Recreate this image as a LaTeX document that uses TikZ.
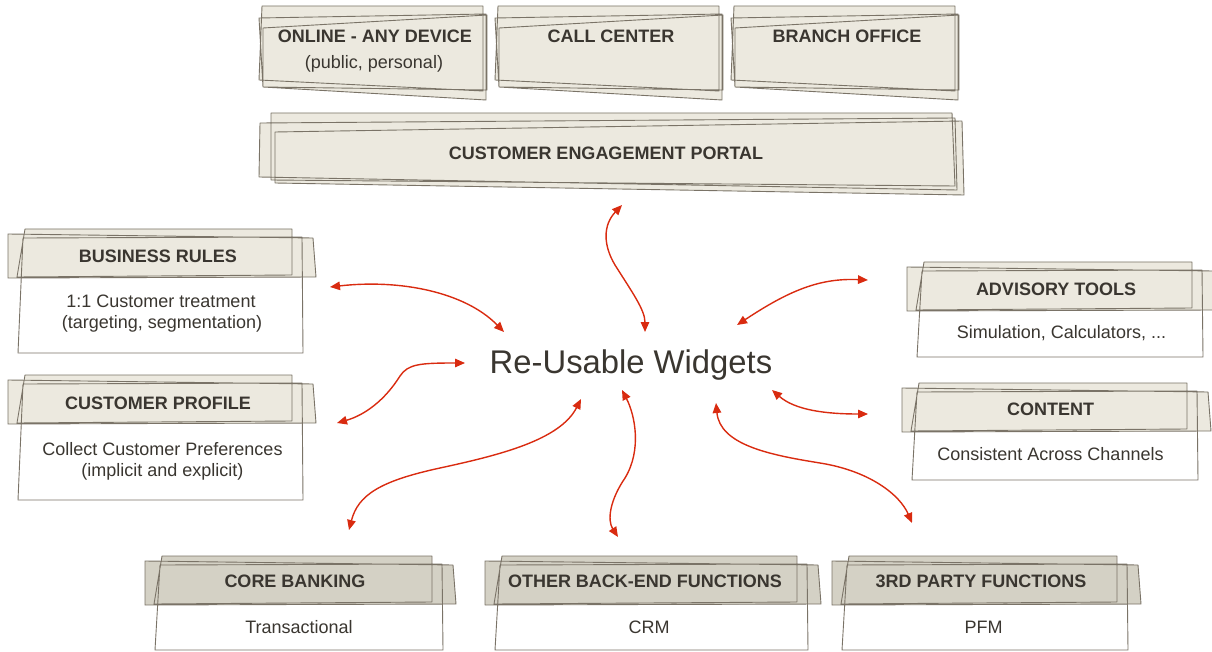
\documentclass[tikz,border=0pt]{standalone}
\usepackage{fontspec}
\setmainfont{Liberation Sans}
\usetikzlibrary{arrows.meta}
\definecolor{boxfill}{HTML}{ECE9DF}
\definecolor{darkfill}{HTML}{D4D1C5}
\definecolor{edgecol}{HTML}{7A7367}
\definecolor{txt}{HTML}{3A3630}
\definecolor{arrowred}{HTML}{D92B10}
% sketchy box of three overlapping quads: L T R B fill
\newcommand\SketchTop[5]{%
  \fill[#5] ({#1+3},#2) -- ({#3-4},#2) -- ({#3-4},{#4-9}) -- (#1,{#4-20}) -- cycle
    (#1,{#2+12}) -- ({#3-1},{#2+8}) -- ({#3-1},#4) -- ({#1+4},{#4-13}) -- cycle
    ({#1+4},{#2+22}) -- (#3,{#2+9}) -- (#3,{#4-10}) -- ({#1+4},{#4-13}) -- cycle;
  \draw[edge] ({#1+3},#2) -- ({#3-4},#2) -- ({#3-4},{#4-9}) -- (#1,{#4-20}) -- cycle
    (#1,{#2+12}) -- ({#3-1},{#2+8}) -- ({#3-1},#4) -- ({#1+4},{#4-13}) -- cycle
    ({#1+4},{#2+22}) -- (#3,{#2+9}) -- (#3,{#4-10}) -- ({#1+4},{#4-13}) -- cycle;}
% header band plus white body: L T R B headerfill
\newcommand\SketchSide[5]{%
  \fill[white] ({#1+5},{#2+9}) -- ({#3-1},{#2+8}) -- (#3,#4) -- (#1,#4) -- cycle;
  \fill[#5] ({#1-10},{#2+5}) -- ({#3+10},{#2+9}) -- ({#3+13},{#2+48}) -- ({#1-10},{#2+49}) -- cycle
    ({#1+7},#2) -- ({#3-11},#2) -- ({#3-11},{#2+46}) -- ({#1-1},{#2+48}) -- cycle;
  \draw[edge] ({#1+5},{#2+9}) -- ({#3-1},{#2+8}) -- (#3,#4) -- (#1,#4) -- cycle
    ({#1-10},{#2+5}) -- ({#3+10},{#2+9}) -- ({#3+13},{#2+48}) -- ({#1-10},{#2+49}) -- cycle
    ({#1+7},#2) -- ({#3-11},#2) -- ({#3-11},{#2+46}) -- ({#1-1},{#2+48}) -- cycle;}
\begin{document}
\begin{tikzpicture}[x=1pt,y=-1pt,
  edge/.style={draw=edgecol,line width=0.9pt,line join=round},
  head/.style={anchor=base,inner sep=0pt,text=txt,font=\bfseries\fontsize{18}{21}\selectfont},
  body/.style={anchor=base,inner sep=0pt,text=txt,font=\fontsize{18}{21}\selectfont},
  link/.style={draw=arrowred,line width=1.4pt,{Triangle[length=10pt,width=8.5pt]}-{Triangle[length=10pt,width=8.5pt]}}]
\useasboundingbox (0,0) rectangle (1212,652);

% top channel boxes
\SketchTop{259}{6}{487}{100}{boxfill}
\SketchTop{495}{6}{723}{100}{boxfill}
\SketchTop{731}{6}{959}{100}{boxfill}
\node[head] (online) at (375,43) {ONLINE - ANY DEVICE};
\node[body] (onlinesub) at (374,69) {(public, personal)};
\node[head] (callcenter) at (611,43) {CALL CENTER};
\node[head] (branch) at (847,43) {BRANCH OFFICE};

% portal
\fill[boxfill] (271,113) -- (952,113) -- (955,186) -- (271,180) -- cycle
  (260,123) -- (955,118) -- (957,190) -- (259,177) -- cycle
  (275,132) -- (962,121) -- (964,195) -- (275,183) -- cycle;
\draw[edge] (271,113) -- (952,113) -- (955,186) -- (271,180) -- cycle
  (260,123) -- (955,118) -- (957,190) -- (259,177) -- cycle
  (275,132) -- (962,121) -- (964,195) -- (275,183) -- cycle;
\node[head] (portal) at (606,160) {CUSTOMER ENGAGEMENT PORTAL};

% left boxes
\SketchSide{18}{229}{303}{353}{boxfill}
\node[head] (rules) at (158,262.5) {BUSINESS RULES};
\node[body] (rules1) at (161,307.7) {1:1 Customer treatment};
\node[body] (rules2) at (162,328.5) {(targeting, segmentation)};

\SketchSide{18}{375}{303}{500}{boxfill}
\node[head] (profile) at (158,409) {CUSTOMER PROFILE};
\node[body] (profile1) at (162.5,455) {Collect Customer Preferences};
\node[body] (profile2) at (162.5,476) {(implicit and explicit)};

% right boxes
\SketchSide{917}{262}{1203}{357}{boxfill}
\node[head] (advisory) at (1056,295) {ADVISORY TOOLS};
\node[body] (advisory1) at (1061.5,338.3) {Simulation, Calculators, ...};

\SketchSide{912}{383}{1198}{480}{boxfill}
\node[head] (content) at (1050.5,415.7) {CONTENT};
\node[body] (content1) at (1050.5,460) {Consistent Across Channels};

% bottom boxes
\SketchSide{155}{556}{443}{650}{darkfill}
\node[head] (core) at (295,587.3) {CORE BANKING};
\node[body] (core1) at (299,633.3) {Transactional};

\SketchSide{495}{556}{808}{650}{darkfill}
\node[head] (backend) at (645,587.3) {OTHER BACK-END FUNCTIONS};
\node[body] (backend1) at (649,633.3) {CRM};

\SketchSide{842}{556}{1128}{650}{darkfill}
\node[head] (third) at (981,587.3) {3RD PARTY FUNCTIONS};
\node[body] (third1) at (983.5,633.3) {PFM};

% centre
\node[anchor=base,inner sep=0pt,text=txt,font=\fontsize{32.8}{38}\selectfont] (widgets) at (631,373) {Re-Usable Widgets};

% connector end points
\coordinate (a1o) at (622,205);  \coordinate (a1w) at (645,332);
\coordinate (a2o) at (330,287);  \coordinate (a2w) at (504,332);
\coordinate (a3o) at (868,280);  \coordinate (a3w) at (737,325);
\coordinate (a4w) at (465,363);  \coordinate (a4o) at (337,423);
\coordinate (a5w) at (772,390);  \coordinate (a5o) at (868,414);
\coordinate (a6w) at (581,399);  \coordinate (a6o) at (349,530);
\coordinate (a7w) at (622,390);  \coordinate (a7o) at (618,537);
\coordinate (a8w) at (716,403);  \coordinate (a8o) at (912,523);

\draw[link] (a1o) .. controls (603,225) and (603,245) .. (615,265)
  .. controls (632,292) and (645,310) .. (a1w);
\draw[link] (a2o) .. controls (400,279) and (465,292) .. (a2w);
\draw[link] (a3w) .. controls (790,290) and (820,278) .. (a3o);
\draw[link] (a4w) .. controls (420,363) and (408,364) .. (400,376)
  .. controls (385,400) and (365,415) .. (a4o);
\draw[link] (a5w) .. controls (795,410) and (825,414) .. (a5o);
\draw[link] (a6w) .. controls (560,440) and (500,455) .. (440,468)
  .. controls (380,481) and (358,495) .. (a6o);
\draw[link] (a7w) .. controls (635,415) and (642,450) .. (625,478)
  .. controls (610,500) and (607,520) .. (a7o);
\draw[link] (a8w) .. controls (720,445) and (770,455) .. (820,463)
  .. controls (870,471) and (900,495) .. (a8o);
\end{tikzpicture}
\end{document}
